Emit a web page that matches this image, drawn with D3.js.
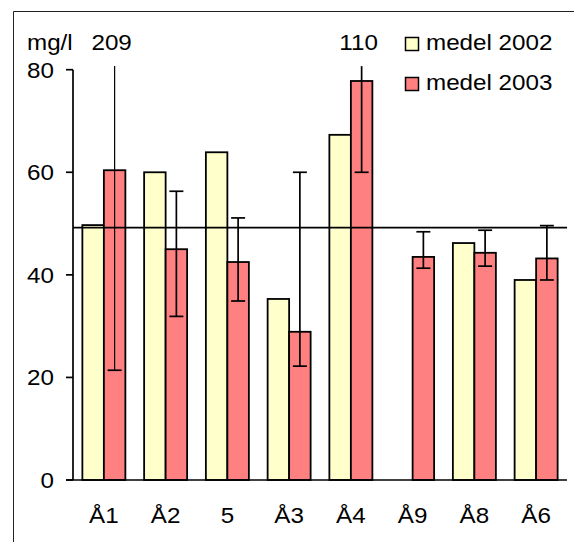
<!DOCTYPE html>
<html><head><meta charset="utf-8">
<script src="https://cdn.jsdelivr.net/npm/d3@7"></script>
<style>body{margin:0;background:#fff}svg{display:block}text{font-family:"Liberation Sans",Arial,sans-serif;font-size:22px;fill:#000}</style>
</head><body>
<svg id="c" width="574" height="542"></svg>
<script>
const categories = ["Å1","Å2","5","Å3","Å4","Å9","Å8","Å6"];
const mean2002 = [49.7, 60.0, 63.9, 35.3, 67.3, null, 46.2, 39.0];
const mean2003 = [60.4, 45.0, 42.5, 28.9, 77.8, 43.5, 44.3, 43.2];
const errLow2003 = [21.4, 31.9, 34.9, 22.2, 60.0, 41.3, 41.7, 39.0];
const errHigh2003 = [209, 56.3, 51.1, 60.0, 110, 48.4, 48.7, 49.6];
const refLevel = 49.2;
const yTicks = [0, 20, 40, 60, 80];
const seriesNames = ["medel 2002", "medel 2003"];
const colors = ["#FFFFCC", "#FF8080"];

const svg = d3.select("#c");
const SX = 1.1;
function txt(g, x, y, s, anchor) {
  return g.append("text").attr("transform", `translate(${x},${y}) scale(${SX},1)`)
    .attr("text-anchor", anchor || "start").text(s);
}

// outer frame
svg.append("path").attr("d", "M13.5,542V11.5H574").attr("fill", "none").attr("stroke", "#222").attr("stroke-width", 1);

const y = d3.scaleLinear().domain([0, 80]).range([480, 69.7]);
const x = d3.scaleBand().domain(categories).range([73, 567]).padding(0);
const xs = d3.scaleBand().domain([0, 1]).range([x.bandwidth()/2 - 21.5, x.bandwidth()/2 + 21.5]);

const g = svg.append("g");

// bars
const series = [mean2002, mean2003];
series.forEach((vals, si) => {
  g.selectAll(null).data(categories.map((c, i) => ({c, v: vals[i]})).filter(d => d.v != null))
    .enter().append("rect")
    .attr("x", d => x(d.c) + xs(si))
    .attr("width", xs.bandwidth())
    .attr("y", d => y(d.v))
    .attr("height", d => y(0) - y(d.v))
    .attr("fill", colors[si]).attr("stroke", "#000").attr("stroke-width", 1.8);
});

// reference line
g.append("line").attr("x1", 73).attr("x2", 567).attr("y1", y(refLevel)).attr("y2", y(refLevel))
  .attr("stroke", "#000").attr("stroke-width", 1.6);

// error bars
const topClip = y(80.7);
categories.forEach((c, i) => {
  const cx = x(c) + xs(1) + xs.bandwidth()/2;
  const hi = errHigh2003[i], lo = errLow2003[i];
  const yHi = hi > 80 ? topClip : y(hi);
  g.append("line").attr("x1", cx).attr("x2", cx).attr("y1", yHi).attr("y2", y(lo))
    .attr("stroke", "#000").attr("stroke-width", hi > 80 && i === 0 ? 1.2 : 1.7);
  g.append("line").attr("x1", cx - 7).attr("x2", cx + 7).attr("y1", y(lo)).attr("y2", y(lo))
    .attr("stroke", "#000").attr("stroke-width", 1.7);
  if (hi <= 80) {
    g.append("line").attr("x1", cx - 7).attr("x2", cx + 7).attr("y1", y(hi)).attr("y2", y(hi))
      .attr("stroke", "#000").attr("stroke-width", 1.7);
  } else {
    txt(svg, cx - 3, 50, String(hi), "middle");
  }
});

// y axis
const yAxis = svg.append("g");
yAxis.append("line").attr("x1", 73).attr("x2", 73).attr("y1", y(80)).attr("y2", y(0)).attr("stroke", "#000").attr("stroke-width", 1.7);
yTicks.forEach(t => {
  yAxis.append("line").attr("x1", 66).attr("x2", 73).attr("y1", y(t)).attr("y2", y(t)).attr("stroke", "#000").attr("stroke-width", 1.7);
  txt(yAxis, 54, y(t) + 8, String(t), "end");
});
// x axis baseline
svg.append("line").attr("x1", 66).attr("x2", 567).attr("y1", y(0)).attr("y2", y(0)).attr("stroke", "#000").attr("stroke-width", 1.7);
categories.forEach(c => txt(svg, x(c) + x.bandwidth()/2, 523, c, "middle"));

// unit
txt(svg, 27, 50, "mg/l");

// legend
seriesNames.forEach((n, i) => {
  svg.append("rect").attr("x", 405.5).attr("y", 37.5 + i*40).attr("width", 13).attr("height", 13)
    .attr("fill", colors[i]).attr("stroke", "#000").attr("stroke-width", 1.5);
  txt(svg, 426, 50 + i*40, n);
});
</script>
</body></html>
